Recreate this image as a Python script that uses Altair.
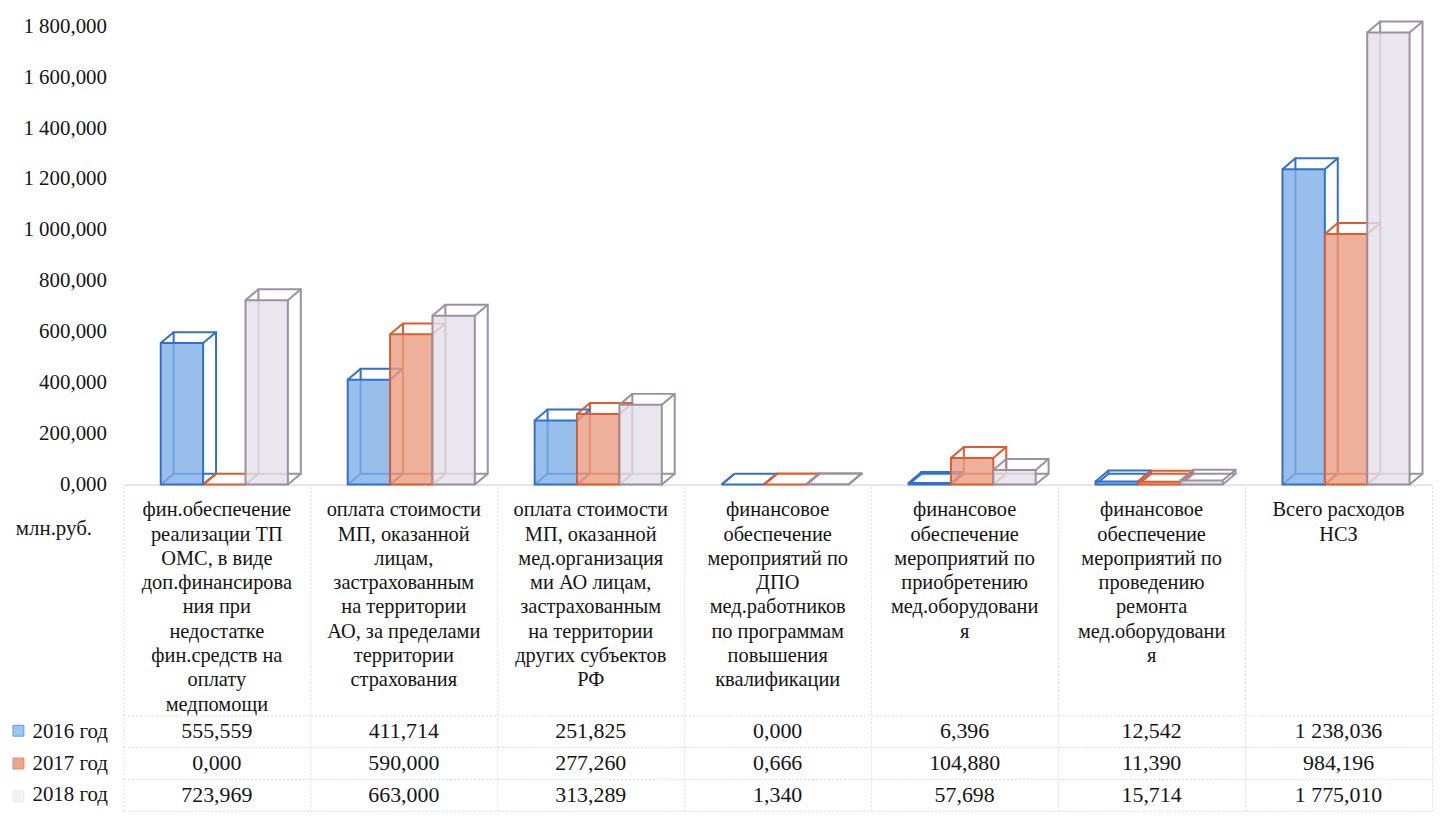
import altair as alt
import pandas as pd

categories = [
    "фин.обеспечение|реализации ТП|ОМС, в виде|доп.финансирова|ния при|недостатке|фин.средств на|оплату|медпомощи",
    "оплата стоимости|МП, оказанной|лицам,|застрахованным|на территории|АО, за пределами|территории|страхования",
    "оплата стоимости|МП, оказанной|мед.организация|ми АО лицам,|застрахованным|на территории|других субъектов|РФ",
    "финансовое|обеспечение|мероприятий по|ДПО|мед.работников|по программам|повышения|квалификации",
    "финансовое|обеспечение|мероприятий по|приобретению|мед.оборудовани|я",
    "финансовое|обеспечение|мероприятий по|проведению|ремонта|мед.оборудовани|я",
    "Всего расходов|НСЗ",
]
years = ["2016 год", "2017 год", "2018 год"]
v2016 = [555.559, 411.714, 251.825, 0.000, 6.396, 12.542, 1238.036]
v2017 = [0.000, 590.000, 277.260, 0.666, 104.880, 11.390, 984.196]
v2018 = [723.969, 663.000, 313.289, 1.340, 57.698, 15.714, 1775.010]
y_ticks = [0, 200, 400, 600, 800, 1000, 1200, 1400, 1600, 1800]
unit_label = "млн.руб."

fill_colors = ["#7eaee6", "#e79c82", "#e4e0ea"]
stroke_colors = ["#2f70d2", "#de5c2d", "#9a90a2"]
legend_fill = ["#9cc6f0", "#eba58c", "#f4f2f6"]
legend_stroke = ["#5d9be0", "#e08a6a", "#eeeaf0"]

rows = []
for yi, (yr, vals) in enumerate(zip(years, [v2016, v2017, v2018])):
    for ci, (c, v) in enumerate(zip(categories, vals)):
        rows.append({"cat": c, "ci": ci, "year": yr, "yi": yi, "value": v})
df = pd.DataFrame(rows)
df_cat = pd.DataFrame({"cat": categories, "row": [unit_label] * len(categories)})

FONT = "Liberation Serif"
W = 1316
TXT = "#141414"
GRID = "#d6dce6"
DX, DY = 13, -11          # depth of the pseudo-3D boxes (px)
GROUP_START, BAR_W = 0.2, 0.68 / 3   # bar layout inside a category slot
fmt_expr = "replace(replace(format({v}, ',.3f'), regexp(',', 'g'), ' '), '.', ',')"

x_scale = alt.Scale(domain=[0, len(categories)], nice=False, zero=False)
x_axis = alt.Axis(labels=False, ticks=False, domain=True, domainColor="#cfcfcf",
                  grid=False, title=None, minExtent=0, maxExtent=0)
y_scale = alt.Scale(domain=[0, 1800], nice=False)
y_axis = alt.Axis(values=y_ticks, labelExpr=fmt_expr.format(v="datum.value"),
                  grid=False, domain=False, ticks=False, labelPadding=17,
                  minExtent=109, labelFontSize=21, labelColor=TXT, title=None,
                  labelFont=FONT)
stroke_scale = alt.Scale(domain=years, range=stroke_colors)
fill_scale = alt.Scale(domain=years, range=fill_colors)

base = alt.Chart(df).transform_calculate(
    xl=f"datum.ci + {GROUP_START} + datum.yi * {BAR_W}",
    xr=f"datum.ci + {GROUP_START} + (datum.yi + 1) * {BAR_W}",
    base0="0",
)
stroke_enc = alt.Stroke("year:N", scale=stroke_scale, legend=None)

back = base.mark_bar(fillOpacity=0, strokeWidth=2, xOffset=DX, x2Offset=DX,
                     yOffset=DY, y2Offset=DY).encode(
    x=alt.X("xl:Q", scale=x_scale, axis=x_axis), x2="xr:Q",
    y=alt.Y("value:Q", scale=y_scale, axis=y_axis), y2="base0:Q",
    stroke=stroke_enc,
)

conn = base.transform_fold(["xl", "xr"], as_=["side", "xc"]).transform_fold(
    ["value", "base0"], as_=["lvl", "yc"]
).mark_rule(strokeWidth=2, x2Offset=DX, y2Offset=DY).encode(
    x=alt.X("xc:Q", scale=x_scale, axis=x_axis), x2="xc:Q",
    y=alt.Y("yc:Q", scale=y_scale, axis=y_axis), y2="yc:Q",
    stroke=stroke_enc,
)

front = base.mark_bar(strokeWidth=2, fillOpacity=0.8).encode(
    x=alt.X("xl:Q", scale=x_scale, axis=x_axis), x2="xr:Q",
    y=alt.Y("value:Q", scale=y_scale, axis=y_axis), y2="base0:Q",
    fill=alt.Fill("year:N", scale=fill_scale, legend=None),
    stroke=stroke_enc,
)

top = alt.layer(back, conn, front).properties(width=W, height=461)

# category label row
x_band = alt.Scale(domain=categories, type="band", paddingInner=0, paddingOuter=0)
sep_axis = alt.Axis(labels=False, ticks=False, domain=False, grid=True, tickBand="extent",
                    gridColor=GRID, gridDash=[2, 2], title=None, minExtent=0, maxExtent=0)
mid = alt.Chart(df_cat).mark_text(baseline="top", lineBreak="|", fontSize=20.5,
                                  lineHeight=24.4, dy=16, color=TXT, font=FONT).encode(
    x=alt.X("cat:N", sort=categories, scale=x_band, axis=sep_axis),
    y=alt.Y("row:N", scale=alt.Scale(type="band", paddingInner=0, paddingOuter=0),
            bandPosition=0,
            axis=alt.Axis(labelBaseline="middle", labelOffset=-71,
                          labelPadding=32, labelFontSize=21, labelColor=TXT, labelFont=FONT,
                          ticks=False, domain=False, grid=False, minExtent=109, title=None)),
    text="cat:N",
).properties(width=W, height=232)

# data table
leg = alt.Legend(orient="none", legendX=-116, legendY=5, title=None, symbolType="square",
                 symbolSize=120, labelExpr="''", labelFontSize=21, rowPadding=11,
                 symbolStrokeWidth=1, padding=0)
y_tab = alt.Y("year:N", sort=years,
              scale=alt.Scale(domain=years, type="band", paddingInner=0, paddingOuter=0),
              axis=alt.Axis(labelFontSize=21, labelColor=TXT, labelFont=FONT, labelPadding=16,
                            minExtent=109, ticks=False, domain=False, grid=True,
                            tickBand="extent", gridColor=GRID, gridDash=[2, 2], title=None))
x_tab = alt.X("cat:N", sort=categories, scale=x_band, axis=sep_axis)
tab_text = alt.Chart(df).transform_calculate(lbl=fmt_expr.format(v="datum.value")).mark_text(
    fontSize=22, color=TXT, font=FONT).encode(x=x_tab, y=y_tab, text="lbl:N")
tab_sq = alt.Chart(df).mark_square(size=0, opacity=1).encode(
    x=x_tab, y=y_tab,
    fill=alt.Fill("year:N", scale=alt.Scale(domain=years, range=legend_fill), legend=leg),
    stroke=alt.Stroke("year:N", scale=alt.Scale(domain=years, range=legend_stroke), legend=leg),
)
table = alt.layer(tab_sq, tab_text).properties(width=W, height=96)

chart = (
    alt.vconcat(top, mid, table, spacing=0, bounds="flush")
    .resolve_scale(fill="independent", stroke="independent")
    .resolve_legend(fill="independent", stroke="independent")
    .properties(padding={"left": 0, "top": 5, "right": 5, "bottom": 5})
    .configure(font=FONT)
    .configure_view(stroke=None)
)

chart.save("out.html", embed_options={"renderer": "svg", "actions": False})
